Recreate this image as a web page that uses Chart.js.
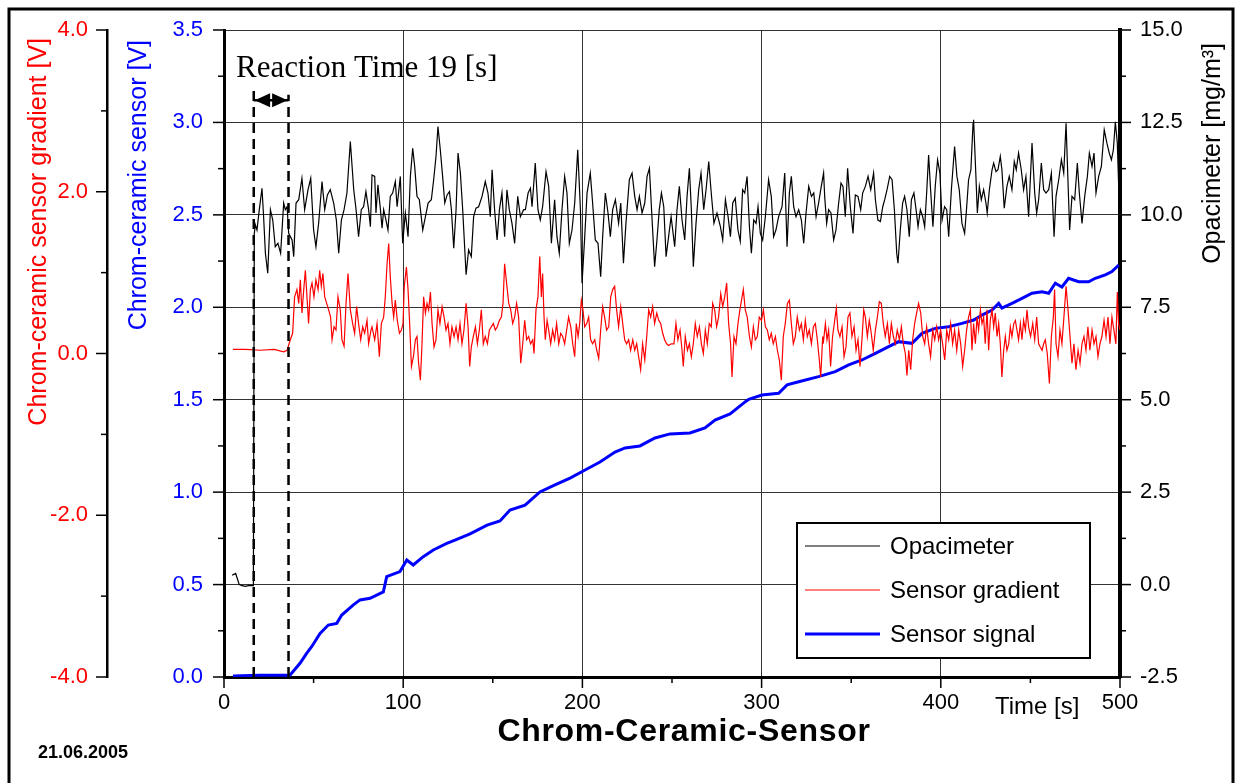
<!DOCTYPE html>
<html lang="en">
<head>
<meta charset="UTF-8">
<title>Chrom-Ceramic-Sensor</title>
<script src="https://cdn.jsdelivr.net/npm/chart.js"></script>
<style>
  html, body { margin: 0; padding: 0; background: #fff; }
  #wrap { position: relative; width: 1240px; height: 783px; }
</style>
</head>
<body>
<div id="wrap"><canvas id="chart"></canvas></div>
<script>
// --- data ---
// Opacimeter [mg/m³] (right axis)
const opacimeterTime = [4.5, 6.5, 7.5, 8.5, 10.0, 12.0, 14.0, 16.4, 16.9,
  17.5, 18.4, 19.7, 21.2, 22.1, 23.1, 24.4, 25.9, 27.2, 28.6, 30.1, 31.6, 33.3, 34.2, 35.2, 36.1, 38.0, 38.9,
  40.2, 41.7, 43.5, 45.0, 46.9, 48.4, 50.0, 51.3, 52.8, 54.7, 56.2, 57.7, 59.3, 61.2, 62.7, 64.0, 65.5, 67.0,
  68.6, 70.5, 72.4, 73.7, 75.1, 76.6, 77.9, 79.2, 80.7, 81.7,
  82.6, 84.1, 84.8, 85.9, 87.3, 88.2, 89.1, 90.4, 91.5, 92.8, 94.1, 95.6, 96.6, 98.4, 99.7, 101.2, 102.7, 104.0,
  105.3, 106.4, 107.7, 109.0, 110.9, 112.4, 113.9, 115.7, 117.0, 118.3, 119.4, 120.7, 122.0, 123.2, 124.5, 125.8,
  126.9, 128.2, 129.5, 130.6, 131.9, 133.2, 135.1, 136.5, 138.0, 139.3, 140.6, 142.1, 144.0, 145.8, 147.3, 148.6,
  149.6, 151.0, 152.4, 153.7, 155.1, 156.6, 157.9, 159.2, 160.7, 162.2, 163.9, 165.4, 167.2,
  168.2, 169.7, 171.0, 171.9, 173.7, 175.2, 176.5, 177.8, 179.7, 181.2, 182.7, 184.5, 185.8, 187.1, 188.6, 190.1,
  191.4, 192.7, 194.2, 195.7, 197.4, 198.9, 199.8, 201.3, 202.6, 204.4, 205.7, 207.2, 208.7, 210.2, 211.3, 212.8,
  214.3, 215.6, 216.9, 218.4, 220.2, 221.4, 222.9, 224.3, 226.2, 227.7, 229.2, 230.5, 231.8, 233.3, 234.8, 236.1,
  237.4, 238.8, 240.3, 241.6, 242.9, 244.1, 245.4, 246.7, 248.1, 249.5,
  251.5, 252.8, 254.1, 255.6, 257.1, 258.4, 259.7, 260.8, 261.9, 263.4, 264.9, 266.2, 267.7, 269.0, 270.5, 271.9,
  273.4, 275.1, 277.0, 278.3, 279.8, 281.3, 282.6, 283.9, 285.3, 286.8, 288.1, 289.4, 290.6, 291.9, 293.2, 294.3,
  295.6, 296.9, 298.0, 299.3, 300.6, 302.1, 303.9, 305.4, 306.7, 308.0, 309.5, 311.4, 312.9, 314.2, 315.5, 316.6,
  317.9, 319.2, 320.7, 322.2, 323.5, 324.8, 326.3, 327.8, 329.1, 330.4, 331.8, 333.3, 334.6,
  335.2, 336.3, 337.4, 338.7, 340.2, 341.5, 343.0, 344.3, 345.4, 346.7, 348.0, 349.5, 351.0, 352.3, 353.8, 355.3,
  356.4, 357.9, 359.4, 360.9, 362.5, 363.5, 364.9, 366.3, 367.6, 368.7, 370.0, 371.5, 372.8, 374.1, 375.4, 376.1,
  377.4, 378.7, 379.8, 381.1, 382.4, 383.6, 385.0, 386.2, 387.3, 388.6, 389.9, 391.0, 392.1, 393.2, 394.3, 395.6,
  396.9, 398.2, 399.5, 400.7, 402.1, 403.3, 404.4, 405.9, 407.7, 409.0, 410.3, 411.8, 413.3, 414.2, 415.5, 416.8, 418.0,
  418.3, 419.6, 420.4, 421.5, 422.6, 423.9, 425.2, 425.9, 427.1, 428.6, 429.5, 430.8, 431.9, 433.2, 434.1, 435.4,
  436.9, 438.2, 439.7, 441.0, 442.1, 443.4, 444.9, 446.2, 447.5, 449.0, 450.9, 452.4, 453.5, 454.6, 456.1, 457.4,
  458.7, 460.2, 461.7, 463.2, 464.3, 465.8, 467.3, 468.6, 469.9, 471.0, 471.9, 473.2, 474.7, 476.2, 477.3, 478.8,
  480.3, 481.8, 482.9, 484.4, 485.5, 486.6, 488.1, 489.6, 491.2, 492.7, 494.0, 495.2, 496.3, 497.4, 498.5, 499.2];
const opacimeterValue = [0.25, 0.30, 0.15, 0.00, -0.03, -0.05, -0.02, -0.03, 9.50,
  9.73, 9.59, 10.14, 10.72, 9.95, 8.96, 8.42, 10.14, 9.86, 9.14, 9.23, 8.96, 10.32, 10.14, 10.22, 9.50, 9.32, 8.87,
  10.32, 10.41, 10.99, 10.14, 10.68, 10.99, 9.59, 9.14, 9.77, 10.90, 10.14, 10.54, 10.68, 10.32, 9.86, 8.96, 9.86, 10.14,
  10.59, 11.98, 10.68, 10.14, 9.41, 10.14, 10.22, 10.63, 10.14, 9.68,
  11.08, 11.04, 10.05, 10.81, 10.14, 9.64, 10.14, 9.86, 9.59, 10.50, 10.59, 10.90, 10.22, 11.04, 9.23, 10.05, 9.41, 11.04,
  11.80, 11.31, 10.50, 10.41, 9.59, 9.95, 10.32, 10.41, 10.95, 11.58, 12.39, 11.76, 11.04, 10.32, 10.54, 10.63,
  10.14, 9.10, 10.14, 11.67, 11.13, 10.14, 8.38, 9.05, 8.87, 9.95, 10.18, 10.22, 10.50, 10.90, 10.59, 9.95,
  11.22, 10.14, 9.32, 10.14, 10.59, 9.41, 10.68, 10.14, 9.77, 9.23, 10.50, 9.95, 10.14,
  10.14, 10.59, 10.72, 10.22, 11.40, 10.14, 9.86, 10.22, 11.17, 10.77, 9.23, 10.41, 9.41, 8.96, 10.14, 11.04,
  10.59, 9.23, 9.59, 10.32, 11.76, 10.14, 8.15, 9.41, 10.59, 11.13, 10.32, 9.32, 9.23, 8.33, 9.41, 10.59,
  10.05, 9.41, 10.14, 10.41, 9.77, 10.32, 8.69, 9.77, 10.95, 11.13, 10.50, 10.14, 10.50, 10.05, 10.32, 11.04,
  11.26, 9.95, 8.60, 9.32, 10.14, 10.59, 10.22, 8.87, 9.41, 9.95,
  9.14, 10.14, 10.77, 9.86, 9.32, 10.50, 11.26, 10.14, 8.60, 9.77, 10.68, 11.13, 10.14, 10.68, 11.44, 10.59,
  9.77, 10.05, 9.68, 9.32, 10.41, 9.95, 9.41, 10.32, 10.45, 9.59, 9.28, 10.68, 10.59, 11.04, 9.68, 8.96,
  9.86, 9.77, 10.22, 9.50, 9.32, 9.95, 10.95, 10.50, 9.41, 9.59, 9.95, 10.22, 11.13, 9.14, 10.59, 11.04,
  10.22, 9.95, 10.14, 9.86, 9.23, 10.05, 10.77, 10.50, 10.59, 9.95, 10.32, 10.77, 11.13,
  10.50, 9.77, 10.14, 10.05, 9.32, 9.59, 10.32, 10.86, 10.77, 9.95, 11.26, 10.22, 9.50, 10.54, 10.50, 10.14,
  10.59, 10.77, 11.04, 10.68, 11.13, 10.41, 9.86, 9.82, 10.22, 10.41, 10.68, 11.04, 10.95, 10.14, 8.96, 8.69,
  9.59, 10.32, 10.50, 10.14, 9.41, 10.41, 10.59, 10.14, 9.68, 10.14, 9.95, 9.68, 10.59, 11.62, 10.68, 9.68,
  10.77, 11.49, 11.13, 9.86, 10.22, 10.14, 9.41, 10.68, 11.85, 11.04, 10.68, 9.77, 9.50, 10.05, 10.95, 11.22, 12.48,
  12.57, 11.04, 10.05, 10.77, 10.41, 10.68, 10.32, 10.05, 10.68, 11.22, 11.40, 11.17, 11.22, 11.58, 11.22, 10.18,
  10.77, 11.04, 10.68, 11.44, 11.22, 11.67, 11.22, 10.68, 11.04, 9.95, 11.94, 10.59, 10.05, 10.41, 11.40, 10.68,
  10.59, 10.68, 11.13, 9.41, 10.50, 10.95, 11.49, 11.13, 12.48, 10.86, 9.59, 10.50, 10.41, 11.40, 10.59, 9.77,
  10.50, 11.04, 11.67, 11.31, 11.67, 10.59, 11.04, 11.31, 12.30, 11.94, 11.67, 11.49, 11.76, 12.52, 11.94, 10.86];

// Sensor gradient [V] (outer left axis)
const gradientTime = [5.0, 12.0, 20.0, 28.0, 33.3, 35.2,
  37.0, 38.3, 39.4, 40.7, 41.7, 42.6, 43.5, 44.5, 45.4, 46.3, 47.2, 48.2, 49.1, 50.2, 51.3, 52.5, 53.4, 54.3,
  55.2, 56.2, 57.3, 58.4, 59.5, 60.3, 61.4, 62.5, 63.6, 64.9, 65.8, 67.0, 68.1, 69.2, 70.5, 71.8, 72.9, 74.0,
  75.1, 76.3, 77.4, 78.5, 79.8, 80.7, 82.0,
  82.6, 84.1, 85.4, 86.7, 87.8, 89.1, 90.0, 91.0, 91.9, 92.8, 93.8, 94.7, 95.6, 96.7, 97.9, 99.0, 99.9, 100.6,
  101.8, 102.7, 103.6, 104.6, 105.7, 106.8, 107.7, 108.6, 109.6, 110.5, 111.4, 112.4, 113.3, 114.2, 115.2, 116.1,
  117.2, 118.3, 119.4, 120.5, 121.7, 122.8, 123.9, 125.0, 126.1, 127.2, 128.4, 129.5, 130.6, 131.7, 132.8, 133.9,
  135.1, 136.2, 137.1, 138.0, 139.1, 140.3, 141.4, 142.5, 143.6, 144.7, 145.8, 147.0, 148.1, 149.2, 150.3, 151.4,
  152.5, 153.7, 154.8, 155.7, 156.6, 157.7, 158.9, 160.0, 161.1, 162.2, 163.3, 164.4, 165.6, 166.7,
  167.8, 168.9, 170.0, 171.1, 172.3, 173.0, 174.1, 175.2, 176.2, 177.1, 177.8, 178.6, 179.3, 180.3, 181.2, 182.3,
  183.4, 184.5, 185.6, 186.8, 187.9, 189.0, 190.1, 191.2, 192.3, 193.5, 194.6, 195.7, 196.6, 197.6, 198.5, 199.4,
  200.3, 201.3, 202.4, 203.5, 204.6, 205.7, 206.9, 208.0, 209.1, 210.2, 211.3, 212.4, 213.5, 214.7, 215.8, 216.9,
  218.0, 219.1, 220.2, 221.4, 222.5, 223.6, 224.7, 225.8, 226.9, 228.1, 229.2, 230.3, 231.4, 232.5, 233.6, 234.8,
  235.9, 237.0, 238.1, 239.2, 240.3, 241.5, 242.6, 243.7, 244.8, 245.9, 247.0, 248.1, 249.6,
  251.1, 252.2, 253.3, 254.5, 255.6, 256.3, 257.4, 258.6, 259.7, 260.8, 261.9, 263.0, 264.1, 265.3, 266.4, 267.5,
  268.6, 269.7, 270.8, 271.9, 272.7, 273.8, 274.9, 276.0, 277.2, 278.3, 279.4, 280.5, 281.6, 282.7, 283.5, 284.6,
  285.7, 286.8, 287.9, 289.1, 289.8, 290.9, 292.0, 293.2, 294.3, 295.4, 296.5, 297.6, 298.7, 299.9, 301.0, 302.1,
  303.2, 304.3, 305.4, 306.5, 307.7, 308.8, 309.9, 311.0, 312.1, 313.2, 314.4, 315.5, 316.6, 317.7, 318.8, 319.9,
  321.1, 322.2, 323.3, 324.4, 325.5, 326.6, 327.8, 328.9, 330.0, 331.1, 332.2, 333.0, 334.1,
  334.4, 335.6, 336.5, 337.4, 338.5, 339.6, 340.8, 341.7, 342.6, 343.7, 344.9, 346.0, 347.1, 348.2, 349.3, 350.4,
  351.6, 352.7, 353.8, 354.9, 356.0, 357.0, 357.9, 359.0, 360.1, 361.2, 362.3, 363.5, 364.6, 365.7, 366.8, 367.9,
  369.0, 370.2, 371.3, 372.4, 373.5, 374.6, 375.7, 376.9, 378.0, 379.1, 380.2, 381.1, 382.1, 383.2, 384.3, 385.4,
  386.5, 387.6, 388.8, 389.9, 391.0, 392.1, 393.2, 394.3, 395.5, 396.6, 397.7, 398.8, 399.9, 401.0, 402.2, 403.3,
  404.4, 405.5, 406.6, 407.7, 408.9, 410.0, 411.1, 412.2, 413.3, 414.4, 415.5, 416.5, 417.4,
  418.3, 419.3, 420.2, 421.1, 422.1, 423.0, 423.9, 424.8, 425.8, 426.7, 427.6, 428.6, 429.5, 430.4, 431.4, 432.3,
  433.2, 434.1, 435.1, 436.0, 436.9, 437.9, 438.8, 439.7, 440.7, 441.6, 442.5, 443.4, 444.4, 445.3, 446.2, 447.2,
  448.1, 449.0, 450.1, 451.3, 452.4, 453.5, 454.6, 455.5, 456.5, 457.4, 458.3, 459.4, 460.6, 461.7, 462.8, 463.5,
  464.3, 465.4, 466.5, 467.6, 468.7, 469.9, 471.0, 472.1, 473.2, 474.3, 475.4, 476.6, 477.7, 478.8, 479.9, 481.0,
  482.1, 483.2, 484.4, 485.5, 486.6, 487.7, 488.8, 489.9, 491.1, 492.2, 493.3, 494.4, 495.5, 496.6, 497.7, 498.5,
  499.2, 500.0];
const gradientValue = [0.05, 0.05, 0.04, 0.05, 0.02, 0.04,
  0.17, 0.25, 0.70, 0.79, 0.62, 0.91, 0.50, 0.79, 1.03, 0.70, 0.37, 0.79, 0.87, 0.70, 0.91, 0.79, 1.03, 0.83,
  0.99, 0.70, 0.62, 0.54, 0.45, 0.17, 0.33, 0.29, 0.70, 0.54, 0.17, 0.09, 0.62, 0.99, 0.54, 0.37, 0.25, 0.58,
  0.37, 0.17, 0.33, 0.25, 0.41, 0.12, 0.29,
  0.33, 0.17, 0.37, -0.04, 0.37, 0.45, 0.70, 1.11, 1.36, 0.95, 0.62, 0.45, 0.66, 0.41, 0.25, 0.29, 0.37, 0.83,
  1.07, 0.79, 0.37, -0.16, -0.04, 0.17, 0.21, -0.12, -0.33, 0.12, 0.70, 0.50, 0.62, 0.54, 0.76, 0.37,
  0.08, 0.17, 0.54, 0.37, 0.58, 0.45, 0.29, 0.37, 0.12, 0.33, 0.21, 0.33, 0.17, 0.37, 0.12, 0.29,
  0.62, 0.33, -0.16, 0.08, 0.21, 0.33, 0.12, 0.29, 0.54, 0.12, 0.21, 0.12, 0.29, 0.33, 0.37, 0.29,
  0.33, 0.41, 0.45, 0.62, 1.11, 0.87, 0.62, 0.54, 0.37, 0.45, 0.62, 0.45, -0.12, 0.12,
  0.41, 0.17, 0.21, 0.12, 0.17, 0.00, 0.54, 0.70, 1.20, 0.70, 0.99, 0.45, 0.17, 0.41, 0.29, 0.12,
  0.29, 0.17, 0.37, 0.12, 0.25, 0.21, 0.12, 0.29, 0.45, 0.33, 0.12, -0.04, 0.37, 0.21, 0.37, 0.66,
  0.54, 0.33, 0.37, 0.45, 0.17, 0.12, 0.17, 0.04, -0.06, 0.29, 0.58, 0.45, 0.29, 0.33, 0.70, 0.79,
  0.83, 0.54, 0.33, 0.58, 0.37, 0.17, 0.12, 0.17, 0.04, 0.17, 0.04, 0.12, -0.04, -0.20, 0.12, -0.08,
  0.21, 0.54, 0.45, 0.58, 0.37, 0.50, 0.41, 0.37, 0.25, 0.17, 0.12, 0.10, 0.12,
  0.12, 0.37, 0.17, 0.29, 0.04, -0.16, 0.21, 0.04, 0.12, -0.04, 0.12, 0.37, 0.21, 0.33, 0.12, 0.00,
  0.29, 0.12, 0.37, 0.33, 0.62, 0.54, 0.33, 0.45, 0.74, 0.58, 0.70, 0.87, 0.37, 0.12, -0.29, 0.21,
  0.12, 0.37, 0.54, 0.70, 0.79, 0.54, 0.45, 0.21, 0.08, 0.33, 0.17, 0.21, 0.45, 0.41, 0.54, 0.33,
  0.29, 0.17, 0.25, 0.12, 0.21, 0.04, -0.08, -0.33, 0.21, 0.37, 0.62, 0.66, 0.37, 0.12, 0.21, 0.45,
  0.29, 0.37, 0.17, 0.41, 0.21, 0.29, 0.12, 0.33, 0.37, 0.17, -0.08, -0.29, 0.21,
  0.12, 0.37, 0.17, 0.29, -0.16, 0.21, 0.41, 0.56, 0.29, 0.21, 0.33, -0.04, 0.08, 0.45, 0.50, 0.21,
  0.33, 0.04, 0.17, -0.16, 0.17, 0.54, 0.45, 0.21, 0.41, 0.25, 0.04, 0.29, 0.45, 0.64, 0.62, 0.37,
  0.21, 0.37, 0.12, 0.37, 0.21, 0.12, 0.29, 0.17, 0.33, 0.12, 0.00, -0.27, 0.04, -0.20, 0.17, 0.37,
  0.50, 0.62, 0.50, 0.21, 0.12, 0.33, 0.12, -0.04, 0.29, 0.17, 0.33, 0.17, 0.29, 0.12, -0.08, 0.29,
  0.17, 0.37, 0.12, 0.29, 0.04, 0.29, 0.12, -0.16, 0.04, 0.29, 0.45, 0.54, 0.04,
  0.37, 0.12, 0.45, 0.29, 0.54, 0.37, 0.45, 0.12, 0.54, 0.04, 0.41, 0.54, 0.33, 0.50, 0.21, 0.37,
  0.12, -0.29, 0.04, 0.21, 0.04, 0.12, 0.33, 0.21, 0.37, 0.41, 0.29, 0.17, 0.37, 0.17, 0.41, 0.29,
  0.54, 0.33, 0.21, 0.37, 0.17, 0.45, 0.12, 0.08, 0.04, 0.12, 0.17, 0.00, -0.37, 0.21, 0.45, 0.79,
  0.12, -0.04, 0.29, 0.12, 0.45, 0.83, 0.54, 0.21, -0.12, 0.12, -0.20, 0.04, -0.12, 0.12, 0.21, 0.04,
  0.33, 0.04, 0.29, 0.12, 0.21, -0.04, 0.12, 0.21, 0.41, 0.21, 0.45, 0.12, 0.45, 0.29, 0.12, 0.76,
  0.37, 0.29];

// Sensor signal [V] (inner left axis)
const signalTime = [5.0, 20.0, 36.8, 42.4, 46.1, 48.9, 53.6, 58.2, 62.9, 65.7, 72.2, 75.9, 81.5, 88.9, 90.8, 98.2,
  102.0, 105.6, 111.2, 116.8, 124.3, 128.9, 137.3, 146.8, 154.0, 159.6, 168.0, 176.3, 184.7, 193.1, 201.5, 209.8,
  218.2, 223.8, 232.1, 240.5, 248.9, 260.0, 268.4, 274.0, 282.4, 290.8, 292.8, 300.2, 309.5, 314.2, 320.7, 331.8,
  341.1, 348.6, 356.0, 363.5, 370.9, 376.5, 383.9, 389.5, 396.9, 404.4, 411.8, 418.4, 423.0, 428.6, 432.3, 434.1,
  439.7, 445.3, 450.9, 456.5, 460.2, 463.9, 467.6, 471.3, 476.9, 482.5, 486.2, 491.8, 495.5, 499.3];
const signalValue = [0.005, 0.01, 0.01, 0.074, 0.128, 0.164, 0.236, 0.281, 0.29, 0.335, 0.39, 0.417, 0.426, 0.46, 0.543, 0.57,
  0.633, 0.606, 0.651, 0.687, 0.723, 0.741, 0.774, 0.822, 0.844, 0.903, 0.93, 1.001, 1.039, 1.076, 1.12, 1.163,
  1.217, 1.239, 1.25, 1.293, 1.315, 1.32, 1.347, 1.39, 1.423, 1.488, 1.502, 1.525, 1.535, 1.58, 1.597, 1.625,
  1.652, 1.688, 1.715, 1.751, 1.787, 1.814, 1.805, 1.859, 1.886, 1.895, 1.913, 1.931, 1.958, 1.985, 2.021, 1.995,
  2.021, 2.048, 2.076, 2.084, 2.076, 2.13, 2.11, 2.157, 2.138, 2.138, 2.157, 2.175, 2.193, 2.229];

// reaction time markers: start / end [s], top of dashed lines [V], arrow level [V]
const reactionTimes = [16.6, 36.0];
const reactionLineTops = [3.2, 3.15];
const reactionArrowLevel = 3.12;

const legendLabels = ['Opacimeter', 'Sensor gradient', 'Sensor signal'];

const SANS = '"Liberation Sans", Arial, sans-serif';
const SERIF = '"Liberation Serif", "Times New Roman", serif';

function pairs(ts, vs) {
    return ts.map((t, i) => ({ x: t, y: vs[i] }));
}

// fixed box sizes so the plot area lands where the original has it
function fixWidth(w) {
    return s => { s.width = w; s.paddingTop = 0; s.paddingBottom = 0; };
}

function drawTickMarks(ctx, scale, minorStep, majorStep, side) {
    ctx.strokeStyle = '#000';
    ctx.lineWidth = 1.5;
    const n = Math.round((scale.max - scale.min) / minorStep);
    for (let i = 0; i <= n; i++) {
        const v = scale.min + i * minorStep;
        const r = v / majorStep;
        const len = Math.abs(r - Math.round(r)) < 1e-6 ? 11 : 6;
        const p = scale.getPixelForValue(v);
        ctx.beginPath();
        if (side === 'down') {
            ctx.moveTo(p, scale.top);
            ctx.lineTo(p, scale.top + len);
        } else if (side === 'left') {
            ctx.moveTo(scale.right, p);
            ctx.lineTo(scale.right - len, p);
        } else {
            ctx.moveTo(scale.left, p);
            ctx.lineTo(scale.left + len, p);
        }
        ctx.stroke();
    }
}

function rotatedText(ctx, text, x, y, font, color) {
    ctx.save();
    ctx.translate(x, y);
    ctx.rotate(-Math.PI / 2);
    ctx.font = font;
    ctx.fillStyle = color;
    ctx.textAlign = 'right';
    ctx.textBaseline = 'alphabetic';
    ctx.fillText(text, 0, 0);
    ctx.restore();
}

const decorPlugin = {
    id: 'decor',
    afterDraw(chart) {
        const ctx = chart.ctx;
        const { x, y, yRed, y1 } = chart.scales;
        ctx.save();

        // tick marks (major + minor)
        drawTickMarks(ctx, x, 50, 100, 'down');
        drawTickMarks(ctx, y, 0.25, 0.5, 'left');
        drawTickMarks(ctx, yRed, 1, 2, 'left');
        drawTickMarks(ctx, y1, 1.25, 2.5, 'right');

        // axis titles
        rotatedText(ctx, 'Chrom-ceramic sensor gradient [V]', 46, 38, '25px ' + SANS, '#ff0000');
        rotatedText(ctx, 'Chrom-ceramic sensor [V]', 146, 40, '25px ' + SANS, '#0000ff');
        rotatedText(ctx, 'Opacimeter [mg/m³]', 1220, 43, '25px ' + SANS, '#000');

        ctx.fillStyle = '#000';
        ctx.textBaseline = 'alphabetic';
        ctx.font = '24px ' + SANS;
        ctx.textAlign = 'left';
        ctx.fillText('Time [s]', 995, 714);

        ctx.font = 'bold 32px ' + SANS;
        ctx.textAlign = 'center';
        ctx.letterSpacing = '0.7px';
        ctx.fillText('Chrom-Ceramic-Sensor', 684, 741);
        ctx.letterSpacing = '0px';

        ctx.font = 'bold 18px ' + SANS;
        ctx.textAlign = 'left';
        ctx.fillText('21.06.2005', 38, 758);

        // reaction time annotation
        ctx.font = '31px ' + SERIF;
        ctx.fillText('Reaction Time 19 [s]', 236, 77);

        const xa = x.getPixelForValue(reactionTimes[0]);
        const xb = x.getPixelForValue(reactionTimes[1]);
        const ya = y.getPixelForValue(reactionArrowLevel);
        const mid = (xa + xb) / 2;
        ctx.strokeStyle = '#000';
        ctx.lineWidth = 2.5;
        ctx.beginPath();
        ctx.moveTo(xa, ya);
        ctx.lineTo(xb, ya);
        ctx.stroke();
        ctx.beginPath();
        ctx.moveTo(xa + 1, ya);
        ctx.lineTo(mid - 1, ya - 7);
        ctx.lineTo(mid - 1, ya + 7);
        ctx.closePath();
        ctx.moveTo(xb - 1, ya);
        ctx.lineTo(mid + 1, ya - 7);
        ctx.lineTo(mid + 1, ya + 7);
        ctx.closePath();
        ctx.fillStyle = '#000';
        ctx.fill();

        // legend box
        const lx = 797, ly = 523, lw = 293, lh = 135;
        ctx.fillStyle = '#fff';
        ctx.fillRect(lx, ly, lw, lh);
        ctx.strokeStyle = '#000';
        ctx.lineWidth = 2;
        ctx.strokeRect(lx, ly, lw, lh);
        ctx.font = '24px ' + SANS;
        ctx.textAlign = 'left';
        ctx.textBaseline = 'middle';
        chart.data.datasets.slice(0, 3).forEach((ds, i) => {
            const rowY = ly + 23 + i * 44;
            ctx.strokeStyle = ds.borderColor;
            ctx.lineWidth = ds.borderWidth;
            ctx.beginPath();
            ctx.moveTo(lx + 8, rowY);
            ctx.lineTo(lx + 83, rowY);
            ctx.stroke();
            ctx.fillStyle = '#000';
            ctx.fillText(legendLabels[i], lx + 93, rowY + 1);
        });

        // outer frame
        ctx.strokeStyle = '#000';
        ctx.lineWidth = 3;
        ctx.strokeRect(9, 9, 1224, 800);
        ctx.restore();
    }
};

const tickFont = { family: SANS, size: 22 };
const oneDecimal = v => Number(v).toFixed(1);

new Chart(document.getElementById('chart'), {
    type: 'line',
    data: {
        datasets: [
            {
                label: legendLabels[0],
                data: pairs(opacimeterTime, opacimeterValue),
                yAxisID: 'y1',
                borderColor: '#000000',
                borderWidth: 1.2,
                order: 2
            },
            {
                label: legendLabels[1],
                data: pairs(gradientTime, gradientValue),
                yAxisID: 'yRed',
                borderColor: '#ff0000',
                borderWidth: 1.2,
                order: 1
            },
            {
                label: legendLabels[2],
                data: pairs(signalTime, signalValue),
                yAxisID: 'y',
                borderColor: '#0000ff',
                borderWidth: 3,
                order: 3
            },
            {
                label: 'reaction start',
                data: [{ x: reactionTimes[0], y: 0 }, { x: reactionTimes[0], y: reactionLineTops[0] }],
                yAxisID: 'y',
                borderColor: '#000000',
                borderWidth: 2.5,
                borderDash: [10, 6],
                order: 0
            },
            {
                label: 'reaction end',
                data: [{ x: reactionTimes[1], y: 0 }, { x: reactionTimes[1], y: reactionLineTops[1] }],
                yAxisID: 'y',
                borderColor: '#000000',
                borderWidth: 2.5,
                borderDash: [10, 6],
                order: 0
            }
        ]
    },
    options: {
        responsive: true,
        maintainAspectRatio: false,
        animation: false,
        parsing: false,
        elements: { point: { radius: 0 }, line: { tension: 0, fill: false } },
        layout: { padding: { top: 30, left: 0, right: 0, bottom: 0 } },
        plugins: { legend: { display: false }, tooltip: { enabled: false } },
        scales: {
            x: {
                type: 'linear', min: 0, max: 500,
                afterFit: s => { s.height = 106; s.paddingLeft = 0; s.paddingRight = 0; },
                ticks: { stepSize: 100, font: tickFont, color: '#000', padding: 13, maxRotation: 0, autoSkip: false },
                grid: { color: '#333', lineWidth: 1, drawTicks: false },
                border: { color: '#000', width: 3 }
            },
            y: {
                position: 'left', weight: 1, min: 0, max: 3.5,
                afterFit: fixWidth(117),
                ticks: { stepSize: 0.5, font: tickFont, color: '#0000ff', padding: 21, callback: oneDecimal },
                grid: { color: '#333', lineWidth: 1, drawTicks: false },
                border: { color: '#000', width: 3 }
            },
            yRed: {
                position: 'left', weight: 2, min: -4, max: 4,
                afterFit: fixWidth(107),
                ticks: { stepSize: 2, font: tickFont, color: '#ff0000', padding: 19, callback: oneDecimal },
                grid: { drawOnChartArea: false, drawTicks: false },
                border: { color: '#000', width: 2.5 }
            },
            y1: {
                position: 'right', min: -2.5, max: 15,
                afterFit: fixWidth(120),
                ticks: { stepSize: 2.5, font: tickFont, color: '#000', padding: 20, callback: oneDecimal },
                grid: { drawOnChartArea: false, drawTicks: false },
                border: { color: '#000', width: 4 }
            }
        }
    },
    plugins: [decorPlugin]
});
</script>
</body>
</html>
